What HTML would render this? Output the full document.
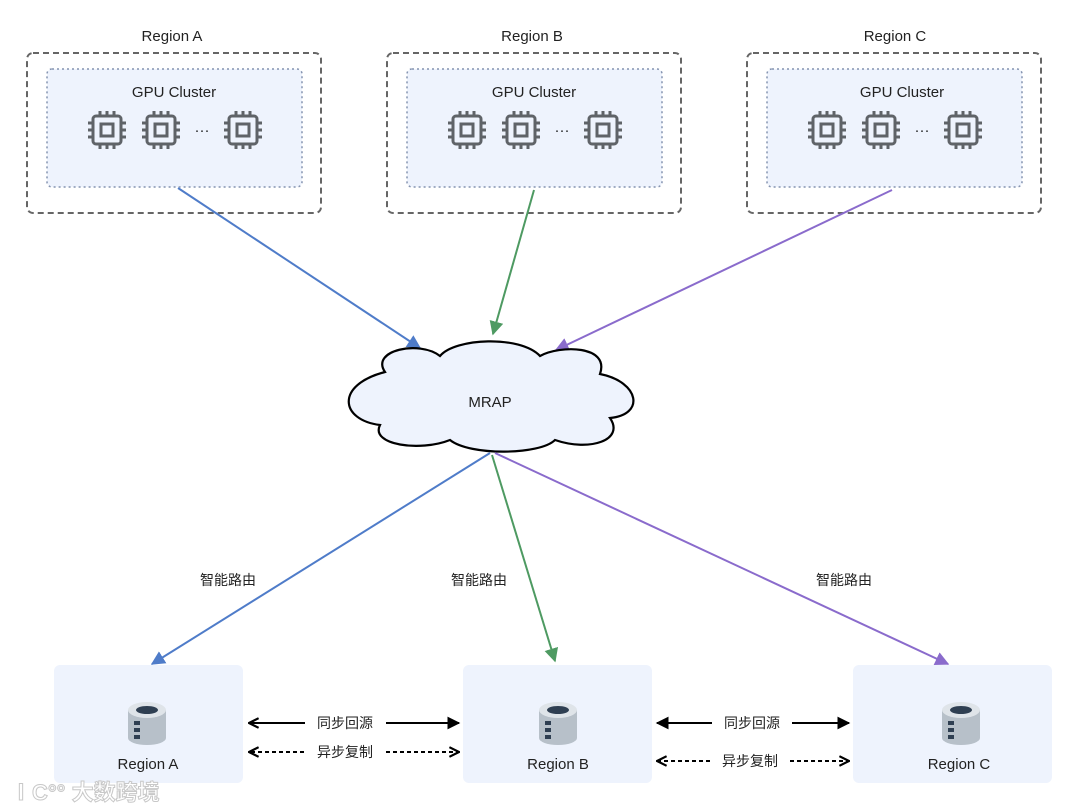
<!DOCTYPE html>
<html><head><meta charset="utf-8"><style>
html,body{margin:0;padding:0;background:#fff;}
svg{display:block;font-family:"Liberation Sans","Noto Sans CJK SC",sans-serif;}
</style></head><body>
<svg width="1080" height="810" viewBox="0 0 1080 810" xmlns="http://www.w3.org/2000/svg">
<defs>
<g id="chip" fill="none" stroke="#5f6368" stroke-width="3">
<rect x="-14" y="-14" width="28" height="28" rx="3"/>
<rect x="-6" y="-6" width="12" height="12"/>
<path d="M-7 -14v-5M0 -14v-5M7 -14v-5M-7 14v5M0 14v5M7 14v5M-14 -7h-5M-14 0h-5M-14 7h-5M14 -7h5M14 0h5M14 7h5"/>
</g>
<g id="db">
<path d="M-19 -12 v28 a19 7 0 0 0 38 0 v-28z" fill="#b7c0c9"/>
<ellipse cx="0" cy="-12" rx="19" ry="8" fill="#dfe4e9"/>
<ellipse cx="0" cy="-12" rx="11" ry="4" fill="#2f3f52"/>
<rect x="-13" y="-1" width="6" height="4" fill="#2f3f52"/>
<rect x="-13" y="6" width="6" height="4" fill="#2f3f52"/>
<rect x="-13" y="13" width="6" height="4" fill="#2f3f52"/>
</g>
<marker id="ab" viewBox="0 0 10 10" refX="9" refY="5" markerWidth="14" markerHeight="14" markerUnits="userSpaceOnUse" orient="auto"><path d="M0 0L10 5L0 10z" fill="#4f7cc9"/></marker>
<marker id="ag" viewBox="0 0 10 10" refX="9" refY="5" markerWidth="14" markerHeight="14" markerUnits="userSpaceOnUse" orient="auto"><path d="M0 0L10 5L0 10z" fill="#4e9a62"/></marker>
<marker id="ap" viewBox="0 0 10 10" refX="9" refY="5" markerWidth="14" markerHeight="14" markerUnits="userSpaceOnUse" orient="auto"><path d="M0 0L10 5L0 10z" fill="#8a6bcc"/></marker>
<marker id="ak" viewBox="0 0 10 10" refX="9" refY="5" markerWidth="13" markerHeight="13" markerUnits="userSpaceOnUse" orient="auto"><path d="M0 0L10 5L0 10z" fill="#000"/></marker>
<marker id="ao" viewBox="0 0 10 10" refX="9" refY="5" markerWidth="12" markerHeight="12" markerUnits="userSpaceOnUse" orient="auto-start-reverse"><path d="M1 1L9 5L1 9" fill="none" stroke="#000" stroke-width="1.8"/></marker>
</defs>

<!-- top regions -->
<g font-size="15" fill="#222" text-anchor="middle">
<text x="172" y="41">Region A</text>
<text x="532" y="41">Region B</text>
<text x="895" y="41">Region C</text>
</g>
<g fill="none" stroke="#666" stroke-width="2" stroke-dasharray="6,4">
<rect x="27" y="53" width="294" height="160" rx="6"/>
<rect x="387" y="53" width="294" height="160" rx="6"/>
<rect x="747" y="53" width="294" height="160" rx="6"/>
</g>
<g fill="#eef3fd" stroke="#8493b0" stroke-width="1.5" stroke-dasharray="2,3">
<rect x="47" y="69" width="255" height="118" rx="5"/>
<rect x="407" y="69" width="255" height="118" rx="5"/>
<rect x="767" y="69" width="255" height="118" rx="5"/>
</g>
<g font-size="15" fill="#222" text-anchor="middle">
<text x="174" y="97">GPU Cluster</text>
<text x="534" y="97">GPU Cluster</text>
<text x="902" y="97">GPU Cluster</text>
<text x="202" y="135">···</text>
<text x="562" y="135">···</text>
<text x="922" y="135">···</text>
</g>
<use href="#chip" x="107" y="130"/><use href="#chip" x="161" y="130"/><use href="#chip" x="243" y="130"/>
<use href="#chip" x="467" y="130"/><use href="#chip" x="521" y="130"/><use href="#chip" x="603" y="130"/>
<use href="#chip" x="827" y="130"/><use href="#chip" x="881" y="130"/><use href="#chip" x="963" y="130"/>

<!-- top arrows -->
<line x1="178" y1="188" x2="420" y2="348" stroke="#4f7cc9" stroke-width="2" marker-end="url(#ab)"/>
<line x1="534" y1="190" x2="493" y2="334" stroke="#4e9a62" stroke-width="2" marker-end="url(#ag)"/>
<line x1="892" y1="190" x2="556" y2="350" stroke="#8a6bcc" stroke-width="2" marker-end="url(#ap)"/>

<!-- cloud -->
<path d="M385 372 C370 350 420 340 440 356 C455 338 520 335 540 356 C560 345 610 345 600 374 C640 382 645 415 610 418 C625 440 590 452 555 440 C540 455 470 456 450 440 C420 452 370 445 380 425 C340 420 335 385 385 372 Z" fill="#eef3fd" stroke="#000" stroke-width="2.2"/>
<text x="490" y="407" font-size="15" fill="#222" text-anchor="middle">MRAP</text>

<!-- bottom arrows -->
<line x1="490" y1="453" x2="152" y2="664" stroke="#4f7cc9" stroke-width="2" marker-end="url(#ab)"/>
<line x1="492" y1="455" x2="555" y2="661" stroke="#4e9a62" stroke-width="2" marker-end="url(#ag)"/>
<line x1="495" y1="453" x2="948" y2="664" stroke="#8a6bcc" stroke-width="2" marker-end="url(#ap)"/>
<g font-size="14" fill="#222" text-anchor="middle">
<text x="228" y="585">智能路由</text>
<text x="479" y="585">智能路由</text>
<text x="844" y="585">智能路由</text>
</g>

<!-- bottom boxes -->
<g fill="#eef3fd">
<rect x="54" y="665" width="189" height="118" rx="6"/>
<rect x="463" y="665" width="189" height="118" rx="6"/>
<rect x="853" y="665" width="199" height="118" rx="6"/>
</g>
<use href="#db" x="147" y="722"/>
<use href="#db" x="558" y="722"/>
<use href="#db" x="961" y="722"/>
<g font-size="15" fill="#222" text-anchor="middle">
<text x="148" y="769">Region A</text>
<text x="558" y="769">Region B</text>
<text x="959" y="769">Region C</text>
</g>

<!-- sync/async -->
<g stroke="#000" stroke-width="2">
<line x1="305" y1="723" x2="249" y2="723" marker-end="url(#ao)"/>
<line x1="386" y1="723" x2="459" y2="723" marker-end="url(#ak)"/>
<line x1="304" y1="752" x2="249" y2="752" stroke-dasharray="4,3" marker-end="url(#ao)"/>
<line x1="386" y1="752" x2="459" y2="752" stroke-dasharray="4,3" marker-end="url(#ao)"/>
<line x1="712" y1="723" x2="657" y2="723" marker-end="url(#ak)"/>
<line x1="792" y1="723" x2="849" y2="723" marker-end="url(#ak)"/>
<line x1="710" y1="761" x2="657" y2="761" stroke-dasharray="4,3" marker-end="url(#ao)"/>
<line x1="790" y1="761" x2="849" y2="761" stroke-dasharray="4,3" marker-end="url(#ao)"/>
</g>
<g font-size="14" fill="#222" text-anchor="middle">
<text x="345" y="728">同步回源</text>
<text x="345" y="757">异步复制</text>
<text x="752" y="728">同步回源</text>
<text x="750" y="766">异步复制</text>
</g>

<!-- watermark -->
<text x="10" y="800" font-size="22" font-weight="bold" fill="#fff" stroke="#c8c8c8" stroke-width="1">ⅠC°° 大数跨境</text>
</svg>
</body></html>
